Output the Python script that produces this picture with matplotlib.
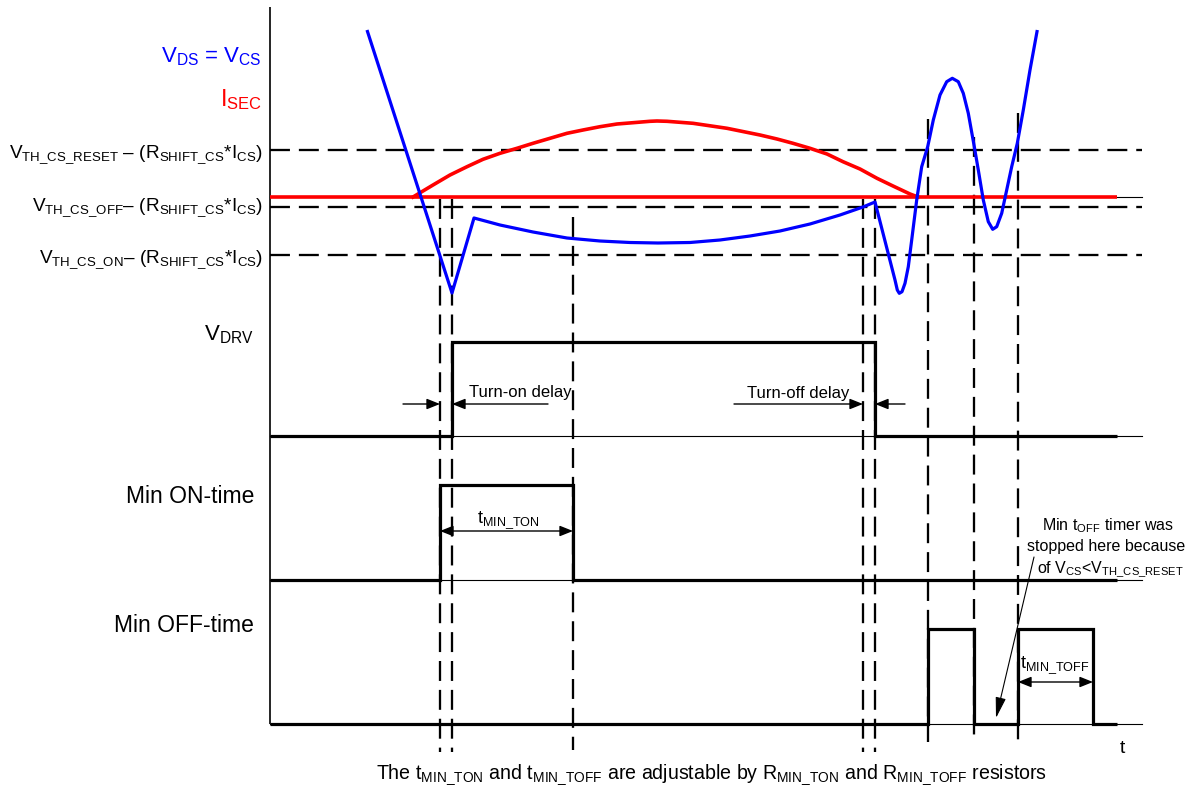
import matplotlib
matplotlib.use('Agg')
import matplotlib.pyplot as plt

plt.rcParams['font.family'] = ['Liberation Sans', 'DejaVu Sans']
plt.rcParams['mathtext.fontset'] = 'custom'
plt.rcParams['mathtext.rm'] = 'Liberation Sans'
plt.rcParams['mathtext.it'] = 'Liberation Sans:italic'
plt.rcParams['mathtext.bf'] = 'Liberation Sans:bold'

# ---------------- Diagram data (time in px-like units, level = screen row) ----------------
t_start, t_end, t_axis_end = 270, 1117, 1142

# V_DS = V_CS waveform
vds_t = [367, 452, 474, 500, 533, 567, 600, 630, 658, 690, 720, 750, 780, 810, 840, 863, 875,
         895, 897.3, 899.3, 902, 905, 908.3, 911.7, 916.7, 921.7, 927.7, 933.3, 940, 946.7,
         952.3, 958.3, 963.3, 968.3, 974.3, 978.3, 983.3, 988.3, 992.7, 996.7, 1001.7,
         1006.7, 1011.7, 1017.3, 1023.3, 1030, 1037.3]
vds_v = [30, 293, 218, 225, 232, 238, 241, 242.5, 243, 242.5, 240, 236, 231, 224, 215, 207, 202,
         280, 290, 293.3, 291.7, 283.3, 266.7, 240, 200, 166.7, 146.7, 120, 95, 81.7,
         78.3, 81.7, 93.3, 113.3, 146.7, 170, 200, 221.7, 229.3, 226.7, 213.3,
         190, 166.7, 143.3, 110, 70, 30]

# I_SEC waveform
isec_base = 197
isec_t = [413, 433, 450, 467, 483, 500, 517, 533, 550, 567, 583, 600, 617, 633, 650, 657, 667,
          693, 727, 760, 777, 793, 810, 827, 843, 860, 877, 893, 910, 918]
isec_v = [197, 185, 175, 166.7, 159.3, 153.3, 148.3, 143.3, 138.3, 133.3, 130, 126.7, 124,
          122.7, 121.3, 121, 121.3, 123.3, 128.3, 135, 139, 143.3, 148.3, 154, 161.7, 169,
          178.3, 186, 194, 197]

# threshold levels: (label, level, text baseline)
thresholds = [
    (r'$\mathregular{V_{TH\_CS\_RESET}}$ – $\mathregular{(R_{SHIFT\_CS}}$*$\mathregular{I_{CS})}$', 150, 158),
    (r'$\mathregular{V_{TH\_CS\_OFF}}$– $\mathregular{(R_{SHIFT\_CS}}$*$\mathregular{I_{CS})}$', 207, 211),
    (r'$\mathregular{V_{TH\_CS\_ON}}$– $\mathregular{(R_{SHIFT\_CS}}$*$\mathregular{I_{CS})}$', 255, 263),
]

# digital signals: low level, high level, edge times
vdrv_low, vdrv_high, vdrv_edges = 436, 342, [452, 875]
ton_low, ton_high, ton_edges = 580, 485, [440, 573]
toff_low, toff_high, toff_edges = 724, 629, [928, 974, 1018, 1093]

# vertical event markers: time, top, bottom
markers_t = [440, 452, 573, 863, 875, 928, 974, 1018]
markers_top = [199, 199, 217, 199, 199, 119, 137, 113]
markers_bot = [752, 752, 750, 752, 752, 742, 738, 742]


def step_signal(edges, low, high):
    xs, ys = [t_start], [low]
    level = low
    for e in edges:
        xs += [e, e]
        ys += [level, high if level == low else low]
        level = high if level == low else low
    xs.append(t_end)
    ys.append(level)
    return xs, ys


# ---------------- Plotting ----------------
fig = plt.figure(figsize=(11.96, 7.87), dpi=100)
ax = fig.add_axes([0, 0, 1, 1])
ax.set_xlim(0, 1196)
ax.set_ylim(787, 0)
ax.axis('off')

dash = (8.7, 3.9)
black = 'black'

# vertical axis
ax.plot([270, 270], [7, 724], color=black, lw=1.2, solid_capstyle='butt')

# thin reference baselines
for lvl in [isec_base, vdrv_low, ton_low, toff_low]:
    ax.plot([270, t_axis_end], [lvl, lvl], color=black, lw=0.8)

# threshold dashed lines + labels
for label, lvl, base in thresholds:
    ax.plot([270, t_axis_end], [lvl, lvl], color=black, lw=1.65, dashes=dash)
    ax.text(263, base, label, fontsize=13.7, ha='right', va='baseline')

# vertical event markers
for t, top, bot in zip(markers_t, markers_top, markers_bot):
    ax.plot([t, t], [top, bot], color=black, lw=1.65, dashes=dash)

# I_SEC
ax.plot([270, t_end], [isec_base, isec_base], color='#ff0000', lw=2.6, solid_capstyle='butt')
ax.plot(isec_t, isec_v, color='#ff0000', lw=2.6, solid_joinstyle='round')

# V_DS
ax.plot(vds_t, vds_v, color='#0000ff', lw=2.3, solid_joinstyle='round', solid_capstyle='butt')

# digital signals
for edges, low, high in [(vdrv_edges, vdrv_low, vdrv_high),
                         (ton_edges, ton_low, ton_high),
                         (toff_edges, toff_low, toff_high)]:
    xs, ys = step_signal(edges, low, high)
    ax.plot(xs, ys, color=black, lw=2.3, solid_joinstyle='miter', solid_capstyle='butt')

# signal labels
ax.text(262, 62, r'$\mathregular{V_{DS}}$ = $\mathregular{V_{CS}}$', fontsize=16, color='#0000ff',
        ha='right', va='baseline')
ax.text(262, 106, r'$\mathregular{I_{SEC}}$', fontsize=17, color='#ff0000', ha='right', va='baseline')
ax.text(254, 340, r'$\mathregular{V_{DRV}}$', fontsize=16, ha='right', va='baseline')
ax.text(254, 503, 'Min ON-time', fontsize=16.5, ha='right', va='baseline')
ax.text(254, 632, 'Min OFF-time', fontsize=16.5, ha='right', va='baseline')

# arrows
head = dict(color=black, lw=1.0, shrinkA=0, shrinkB=0, mutation_scale=16)
one_way = dict(arrowstyle='-|>,head_length=0.5,head_width=0.2', **head)
two_way = dict(arrowstyle='<|-|>,head_length=0.5,head_width=0.2', **head)

arrow_y = 404
ax.annotate('', xy=(vdrv_edges[0] - 12, arrow_y), xytext=(403, arrow_y), arrowprops=one_way)
ax.annotate('', xy=(vdrv_edges[0], arrow_y), xytext=(548, arrow_y), arrowprops=one_way)
ax.annotate('', xy=(vdrv_edges[1] - 12, arrow_y), xytext=(734, arrow_y), arrowprops=one_way)
ax.annotate('', xy=(vdrv_edges[1], arrow_y), xytext=(905, arrow_y), arrowprops=one_way)
ax.text(469, 397, 'Turn-on delay', fontsize=12, ha='left', va='baseline')
ax.text(747, 398, 'Turn-off delay', fontsize=12, ha='left', va='baseline')

ax.annotate('', xy=(ton_edges[0], 531), xytext=(ton_edges[1], 531), arrowprops=two_way)
ax.text(477, 523, r'$\mathregular{t_{MIN\_TON}}$', fontsize=13, ha='left', va='baseline')

ax.annotate('', xy=(toff_edges[2], 682), xytext=(toff_edges[3], 682), arrowprops=two_way)
ax.text(1020, 668, r'$\mathregular{t_{MIN\_TOFF}}$', fontsize=13, ha='left', va='baseline')

# note about the stopped timer
ax.text(1108, 530, r'Min $\mathregular{t_{OFF}}$ timer was', fontsize=11.5, ha='center', va='baseline')
ax.text(1106, 551, 'stopped here because', fontsize=11.5, ha='center', va='baseline')
ax.text(1110, 572, r'of $\mathregular{V_{CS}}$<$\mathregular{V_{TH\_CS\_RESET}}$', fontsize=11.5,
        ha='center', va='baseline')
ax.annotate('', xy=(996, 718), xytext=(1034, 557),
            arrowprops=dict(arrowstyle='-|>,head_length=0.8,head_width=0.2', color=black,
                            lw=0.8, shrinkA=0, shrinkB=0, mutation_scale=16))

# time label and caption
ax.text(1120, 753, 't', fontsize=14, ha='left', va='baseline')
ax.text(712, 779, r'The $\mathregular{t_{MIN\_TON}}$ and $\mathregular{t_{MIN\_TOFF}}$ are adjustable by '
        r'$\mathregular{R_{MIN\_TON}}$ and $\mathregular{R_{MIN\_TOFF}}$ resistors',
        fontsize=14.1, ha='center', va='baseline')

plt.savefig('out.png', dpi=100)
